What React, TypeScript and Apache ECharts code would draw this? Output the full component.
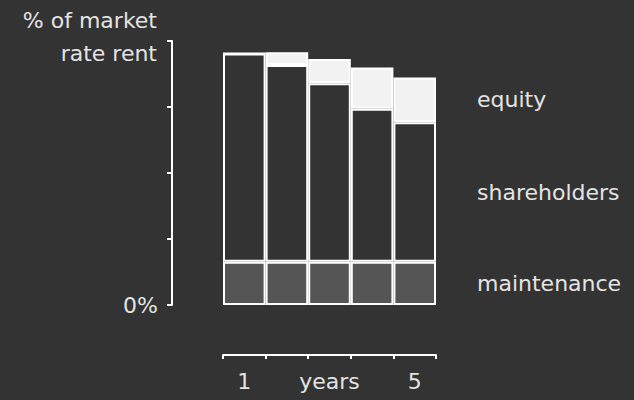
import React, { useEffect, useRef } from "react";
import * as echarts from "echarts";

const years = ["1", "", "years", "", "5"];
const maintenance = [16.4, 16.4, 16.4, 16.4, 16.4];
const shareholders = [78.9, 74.5, 67.6, 57.9, 52.8];
const equity = [0, 4.8, 9.2, 15.7, 17.0];
const yTop = 100;
const yLabelBottom = "0%";
const yLabelTop = "% of market\nrate rent";

const FONT = "'DejaVu Sans'";
const FW = "normal";
const FS = 22;
const TXT = "#e4e4e4";
const BG = "#333333";

export default function App() {
  const ref = useRef<HTMLDivElement>(null);
  useEffect(() => {
    const chart = echarts.init(ref.current!, null, { renderer: "svg" });
    const last = years.length - 1;
    const mk = (name: string, data: number[], color: string) => ({
      name,
      type: "bar",
      stack: "total",
      barCategoryGap: "0%",
      data: data.map((v, i) =>
        i === last
          ? {
              value: v,
              label: {
                show: true,
                position: "right",
                distance: 41,
                formatter: name,
                color: TXT,
                fontFamily: FONT,
                fontWeight: FW,
                fontSize: FS,
              },
            }
          : v
      ),
      itemStyle: { color, borderColor: "#ffffff", borderWidth: 2 },
      emphasis: { disabled: true },
    });
    chart.setOption({
      animation: false,
      backgroundColor: BG,
      grid: { left: 223, right: 198, top: 41, bottom: 95, containLabel: false },
      xAxis: {
        type: "category",
        data: years,
        offset: 50,
        axisLine: { show: true, onZero: false, lineStyle: { color: "#ffffff", width: 2 } },
        axisTick: { show: true, length: 4, lineStyle: { color: "#ffffff", width: 2 }, interval: 0 },
        axisLabel: { color: TXT, fontFamily: FONT, fontWeight: FW, fontSize: FS, margin: 15, interval: 0 },
      },
      yAxis: {
        type: "value",
        min: 0,
        max: yTop,
        interval: 25,
        offset: 51,
        splitLine: { show: false },
        axisLine: { show: true, lineStyle: { color: "#ffffff", width: 2 } },
        axisTick: { show: true, length: 5, lineStyle: { color: "#ffffff", width: 2 } },
        axisLabel: {
          color: TXT,
          fontFamily: FONT,
          fontWeight: FW,
          fontSize: FS,
          margin: 14,
          formatter: (v: number) => (v === 0 ? yLabelBottom : ""),
        },
      },
      graphic: [
        {
          type: "text",
          right: 634 - 157,
          top: 4,
          style: {
            text: yLabelTop,
            fill: TXT,
            font: `${FW} ${FS}px ${FONT}`,
            textAlign: "right",
            lineHeight: 33,
          },
        },
      ],
      series: [
        mk("maintenance", maintenance, "#555555"),
        mk("shareholders", shareholders, BG),
        mk("equity", equity, "#f2f2f2"),
      ],
    });
    return () => chart.dispose();
  }, []);
  return (
    <div
      ref={ref}
      style={{ position: "fixed", left: 0, top: 0, width: 634, height: 400 }}
    />
  );
}
